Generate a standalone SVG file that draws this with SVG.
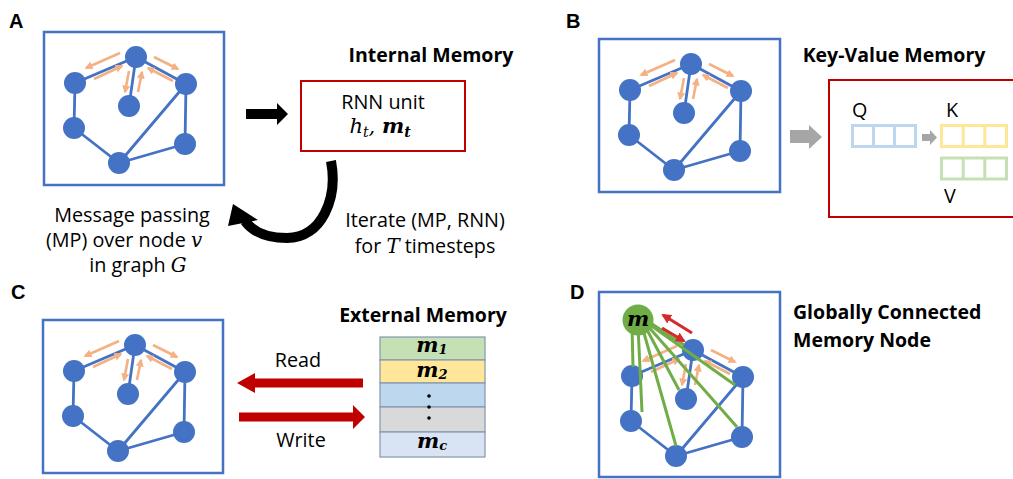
<svg xmlns="http://www.w3.org/2000/svg" xmlns:xlink="http://www.w3.org/1999/xlink" width="1013" height="479" viewBox="0 0 1013 479">
<style>
.lbl{font-family:"Liberation Sans",Arial,sans-serif;font-weight:bold;font-size:20px;fill:#000}
.t{font-family:"Open Sans","Liberation Sans",sans-serif;font-size:19.8px;fill:#000}
.tb{font-family:"Open Sans","Liberation Sans",sans-serif;font-weight:bold;font-size:19.5px;fill:#000}
.mi{font-family:"DejaVu Serif","Liberation Serif",serif;font-style:italic}
.mbi{font-family:"DejaVu Serif","Liberation Serif",serif;font-style:italic;font-weight:bold}
.panel{fill:none;stroke:#4472c4;stroke-width:2.5}
.redbox{fill:none;stroke:#c00000;stroke-width:2}
.edge{fill:none;stroke:#4472c4;stroke-width:2.8}
.node{fill:#4472c4}
.oarr{stroke:#f4b183;stroke-width:2.6;marker-end:url(#oa)}
.gl{stroke:#70ad47;stroke-width:3}
.rarr{stroke:#d62a2a;stroke-width:3;marker-end:url(#ra)}
.row{stroke:#8497b0;stroke-width:1.2}
</style>
<defs>
<marker id="oa" viewBox="0 0 10 10" refX="8" refY="5" markerWidth="8" markerHeight="8" markerUnits="userSpaceOnUse" orient="auto"><path d="M0,0 L10,5 L0,10 z" fill="#f4b183"/></marker>
<marker id="ra" viewBox="0 0 10 10" refX="8" refY="5" markerWidth="10" markerHeight="10" markerUnits="userSpaceOnUse" orient="auto"><path d="M0,0 L10,5 L0,10 z" fill="#d62a2a"/></marker>
<g id="mg">
<path class="edge" d="M136,57 L75,83 M136,57 L129,106 M136,57 L186,84 M75,83 L74,128 M74,128 L119,163 M119,163 L186,84 M119,163 L185,144 M186,84 L185,144"/>
<circle class="node" cx="136" cy="57" r="11"/>
<circle class="node" cx="75" cy="83" r="11"/>
<circle class="node" cx="129" cy="106" r="11"/>
<circle class="node" cx="186" cy="84" r="11"/>
<circle class="node" cx="74" cy="128" r="11"/>
<circle class="node" cx="119" cy="163" r="11"/>
<circle class="node" cx="185" cy="144" r="11"/>
<line class="oarr" x1="120" y1="53" x2="86" y2="68"/>
<line class="oarr" x1="94" y1="79" x2="122" y2="66"/>
<line class="oarr" x1="154" y1="57" x2="178" y2="69"/>
<line class="oarr" x1="173" y1="81" x2="148" y2="68"/>
<line class="oarr" x1="129" y1="71" x2="125" y2="92"/>
<line class="oarr" x1="138" y1="92" x2="142" y2="72"/>
</g>
</defs>
<rect width="1013" height="479" fill="#fff"/>

<g id="panelA">
<text class="lbl" x="9" y="28">A</text>
<rect class="panel" x="44" y="32" width="180" height="153"/>
<use xlink:href="#mg" href="#mg"/>
<text class="t" x="132" y="222" text-anchor="middle">Message passing</text>
<text class="t" x="124" y="247" text-anchor="middle">(MP) over node <tspan class="mi">v</tspan></text>
<text class="t" x="138" y="272" text-anchor="middle">in graph <tspan class="mi">G</tspan></text>
</g>

<g id="internal-memory">
<text class="tb" x="431" y="62" text-anchor="middle">Internal Memory</text>
<rect class="redbox" x="301" y="81" width="164" height="70"/>
<text class="t" x="383" y="109" text-anchor="middle">RNN unit</text>
<text x="380" y="133" text-anchor="middle" font-size="21"><tspan class="mi">h</tspan><tspan class="mi" font-size="14" dy="4">t</tspan><tspan class="mi" dy="-4">, </tspan><tspan class="mbi">m</tspan><tspan class="mbi" font-size="14" dy="4">t</tspan></text>
<text class="t" x="425" y="227" text-anchor="middle">Iterate (MP, RNN)</text>
<text class="t" x="425" y="253" text-anchor="middle">for <tspan class="mi">T</tspan> timesteps</text>
</g>

<g id="connectors">
<polygon points="246,109 277,109 277,103 288,114 277,125 277,119 246,119" fill="#000"/>
<path d="M331,161 C338,198 322,238 287,238 C268,238 253,232 245,221" fill="none" stroke="#000" stroke-width="10"/>
<polygon points="233,204 258,220 228,226" fill="#000"/>
<polygon points="790,130 809,130 809,125 822,137 809,149 809,143 790,143" fill="#a6a6a6"/>
<polygon points="922,134 930,134 930,130 937,137.5 930,145 930,141 922,141" fill="#a6a6a6"/>
<polygon points="363,378.5 255,378.5 255,373 237,383 255,393 255,387.5 363,387.5" fill="#c00000"/>
<polygon points="239,412.5 353,412.5 353,405 365,417 353,429 353,421.5 239,421.5" fill="#c00000"/>
</g>

<g id="panelB">
<text class="lbl" x="566" y="28">B</text>
<rect class="panel" x="599" y="39" width="181" height="153"/>
<use xlink:href="#mg" href="#mg" transform="translate(555,7)"/>
<text class="tb" x="894" y="62" text-anchor="middle">Key-Value Memory</text>
<rect class="redbox" x="829" y="80" width="200" height="137"/>
<text class="t" x="852" y="117">Q</text>
<text class="t" x="946" y="117">K</text>
<text class="t" x="944" y="203">V</text>
<g fill="none" stroke-width="3">
<path stroke="#bdd7ee" d="M852.5,125.5 H915.5 V146.5 H852.5 Z M873.5,125.5 V146.5 M894.5,125.5 V146.5"/>
<path stroke="#ffe699" d="M941.5,125.5 H1006.5 V146.5 H941.5 Z M963.2,125.5 V146.5 M984.8,125.5 V146.5"/>
<path stroke="#c5e0b4" d="M941.5,158 H1006.5 V179 H941.5 Z M963.2,158 V179 M984.8,158 V179"/>
</g>
</g>

<g id="panelC">
<text class="lbl" x="11" y="299">C</text>
<rect class="panel" x="43" y="320" width="180" height="153"/>
<use xlink:href="#mg" href="#mg" transform="translate(-1,288)"/>
<text class="tb" x="423" y="322" text-anchor="middle">External Memory</text>
<text class="t" x="298" y="367" text-anchor="middle">Read</text>
<text class="t" x="301" y="447" text-anchor="middle">Write</text>
<g id="memory-stack">
<rect class="row" x="380" y="337" width="105" height="23" fill="#c5e0b4"/>
<rect class="row" x="380" y="360" width="105" height="23" fill="#ffe699"/>
<rect class="row" x="380" y="383" width="105" height="24" fill="#bdd7ee"/>
<rect class="row" x="380" y="407" width="105" height="25" fill="#d9d9d9"/>
<rect class="row" x="380" y="432" width="105" height="25" fill="#dae3f3"/>
<text x="432" y="352" text-anchor="middle" font-size="21"><tspan class="mbi">m</tspan><tspan class="mbi" font-size="13" dy="2">1</tspan></text>
<text x="432" y="377" text-anchor="middle" font-size="21"><tspan class="mbi">m</tspan><tspan class="mbi" font-size="13" dy="2">2</tspan></text>
<circle cx="429" cy="396" r="1.8"/>
<circle cx="429" cy="407" r="1.8"/>
<circle cx="429" cy="418" r="1.8"/>
<text x="432" y="448" text-anchor="middle" font-size="21"><tspan class="mbi">m</tspan><tspan class="mbi" font-size="13" dy="2">c</tspan></text>
</g>
</g>

<g id="panelD">
<text class="lbl" x="570" y="299">D</text>
<rect class="panel" x="599" y="292" width="181" height="185"/>
<use xlink:href="#mg" href="#mg" transform="translate(557,293)"/>
<g id="global-links">
<line class="gl" x1="632" y1="326" x2="633" y2="367"/>
<line class="gl" x1="638" y1="326" x2="642" y2="412"/>
<line class="gl" x1="642" y1="326" x2="676" y2="446"/>
<line class="gl" x1="645" y1="326" x2="679" y2="390"/>
<line class="gl" x1="646" y1="324" x2="737" y2="427"/>
<line class="gl" x1="646" y1="322" x2="735" y2="385"/>
<line class="gl" x1="646" y1="320" x2="684" y2="345"/>
</g>
<g id="memory-node">
<circle cx="638" cy="320" r="15.5" fill="#70ad47"/>
<text class="mbi" x="638" y="326" text-anchor="middle" font-size="21">m</text>
</g>
<line class="rarr" x1="692" y1="333" x2="663" y2="315"/>
<line class="rarr" x1="662" y1="328" x2="684" y2="341"/>
<text class="tb" x="793" y="319">Globally Connected</text>
<text class="tb" x="793" y="347">Memory Node</text>
</g>
</svg>
